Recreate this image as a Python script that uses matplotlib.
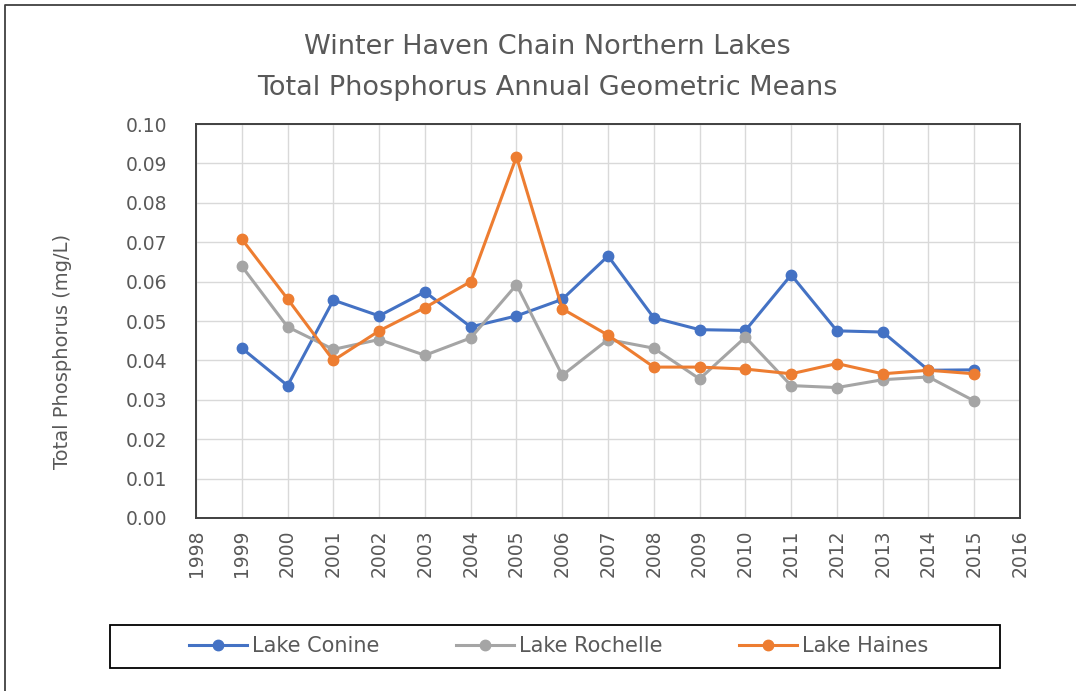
import matplotlib.pyplot as plt
from matplotlib.lines import Line2D
from matplotlib.patches import Rectangle

plt.rcParams['font.family'] = ['DejaVu Sans']

years = list(range(1999, 2016))

# annual geometric means, mg/L
conine = [0.0431, 0.0336, 0.0553, 0.0513, 0.0574, 0.0485, 0.0513, 0.0555, 0.0665,
          0.0508, 0.0478, 0.0476, 0.0617, 0.0475, 0.0472, 0.0375, 0.0376]
rochelle = [0.0639, 0.0485, 0.0428, 0.0453, 0.0413, 0.0457, 0.0592, 0.0362, 0.0453,
            0.0431, 0.0353, 0.0459, 0.0336, 0.0331, 0.0351, 0.0358, 0.0297]
haines = [0.0708, 0.0556, 0.0400, 0.0475, 0.0534, 0.0600, 0.0917, 0.0531, 0.0464,
          0.0383, 0.0383, 0.0378, 0.0366, 0.0392, 0.0366, 0.0375, 0.0366]

series = [
    ('Lake Conine', conine, '#4472C4'),
    ('Lake Rochelle', rochelle, '#A5A5A5'),
    ('Lake Haines', haines, '#ED7D31'),
]

txt = '#595959'

fig = plt.figure(figsize=(10.76, 6.91), dpi=100)
ax = fig.add_axes([0.1822, 0.2504, 0.9480 - 0.1822, 0.8205 - 0.2504])

for name, vals, col in series:
    ax.plot(years, vals, color=col, lw=2.2, marker='o', ms=7.5, label=name)

ax.set_xlim(1998, 2016)
ax.set_ylim(0, 0.10)
ax.set_xticks(range(1998, 2017))
ax.set_yticks([i / 100 for i in range(11)])
ax.set_yticklabels(['%.2f' % (i / 100) for i in range(11)])
ax.tick_params(axis='x', labelrotation=90, pad=8)
ax.tick_params(axis='y', pad=21)
ax.tick_params(length=0, labelsize=13.5, colors=txt)
ax.grid(True, color='#D9D9D9', lw=1)
ax.set_axisbelow(True)
for s in ax.spines.values():
    s.set_color('#404040')
    s.set_linewidth(1.4)

# y label sits a little below the axes centre in the original
fig.text(62 / 1076, 1 - 351 / 691, 'Total Phosphorus (mg/L)', rotation=90,
         ha='center', va='center', fontsize=14, color=txt)

fig.text(0.509, 0.932, 'Winter Haven Chain Northern Lakes', ha='center', va='center',
         fontsize=19.5, color=txt)
fig.text(0.509, 0.873, 'Total Phosphorus Annual Geometric Means', ha='center', va='center',
         fontsize=19.5, color=txt)

# legend box drawn separately, entries centred in it
fig.patches.append(Rectangle((110 / 1076, 1 - 668 / 691), 890 / 1076, 43 / 691,
                             transform=fig.transFigure, fill=False, ec='black', lw=1.3))
fig.legend(loc='center', bbox_to_anchor=(0.519, 1 - 646 / 691), ncol=3, frameon=False,
           fontsize=15, labelcolor=txt, handlelength=2.8, handletextpad=0.2,
           columnspacing=3.7)

# only top and left edges of the outer frame show in the original
fig.lines.append(Line2D([5 / 1076, 5 / 1076, 1.0], [0.0, 1 - 5 / 691, 1 - 5 / 691],
                        transform=fig.transFigure, color='#404040', lw=1.3))

fig.savefig('out.png', dpi=100)
